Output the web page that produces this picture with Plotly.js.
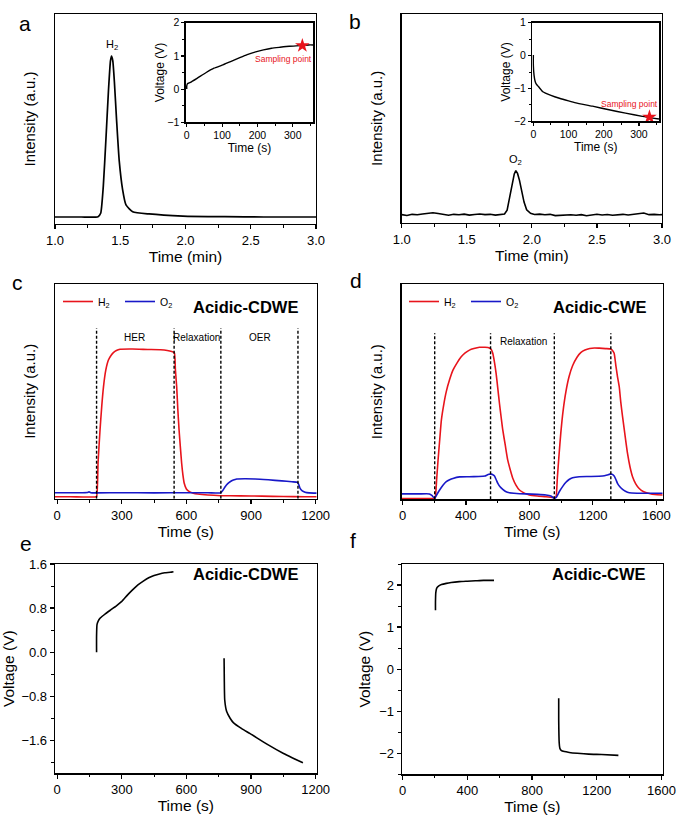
<!DOCTYPE html>
<html>
<head>
<meta charset="utf-8">
<script src="https://cdn.plot.ly/plotly-3.0.1.min.js"></script>
<style>
  html, body { margin: 0; padding: 0; background: #fff; }
  #chart { width: 678px; height: 819px; }
</style>
</head>
<body>
<div id="chart"></div>
<script>
// ---- panel a : H2 chromatogram ----
var aTime   = [1.00, 1.20, 1.33, 1.35, 1.37, 1.39, 1.41, 1.425, 1.433, 1.443, 1.455, 1.472, 1.492, 1.518, 1.544, 1.595, 1.72, 1.98, 2.3, 2.6, 3.0];
var aSignal = [0, 0, 0.002, 0.023, 0.19, 0.48, 0.79, 0.97, 1.0, 0.97, 0.84, 0.6, 0.35, 0.17, 0.075, 0.033, 0.019, 0.006, 0.002, 0, 0];

// ---- panel b : O2 chromatogram ----
var bTime   = [1.00, 1.04, 1.08, 1.12, 1.16, 1.20, 1.24, 1.28, 1.32, 1.36, 1.40, 1.44, 1.48, 1.52, 1.56, 1.60, 1.64, 1.68, 1.72, 1.76,
               1.79, 1.81, 1.83, 1.85, 1.865, 1.877, 1.89, 1.905, 1.92, 1.94, 1.96, 1.99, 2.02, 2.06, 2.10, 2.14, 2.18, 2.22, 2.26, 2.30,
               2.34, 2.38, 2.42, 2.46, 2.50, 2.54, 2.58, 2.62, 2.66, 2.70, 2.74, 2.78, 2.82, 2.86, 2.90, 2.94, 2.98, 3.00];
var bSignal = [0.002, -0.003, 0.004, 0.001, 0.006, 0.008, 0.014, 0.009, 0.003, -0.002, 0.004, 0.001, 0.005, -0.001, 0.003, 0.006, 0.002, 0.004, -0.001, 0.003,
               0.006, 0.03, 0.11, 0.2, 0.255, 0.275, 0.258, 0.215, 0.155, 0.08, 0.032, 0.01, 0.003, 0.005, 0.001, 0.004, -0.004, -0.002, 0.003, 0.001,
               -0.002, 0.002, -0.005, 0.001, 0.004, 0.0, 0.003, -0.002, 0.002, 0.004, 0.0, 0.003, 0.007, 0.012, 0.002, 0.004, 0.001, 0.002];

// ---- insets : voltage during sampling ----
var insetATime = [0, 0, 2, 10, 30, 55, 77, 100, 124, 150, 171, 195, 217, 240, 264, 290, 321, 345, 358];
var insetAVolt = [0.0, 0.1, 0.16, 0.2, 0.33, 0.5, 0.63, 0.72, 0.83, 0.95, 1.04, 1.12, 1.18, 1.23, 1.26, 1.29, 1.31, 1.33, 1.33];
var insetBTime = [0, 0, 2, 5, 8, 15, 27, 50, 74, 100, 121, 168, 215, 262, 310, 357];
var insetBVolt = [0.02, -0.3, -0.6, -0.78, -0.86, -0.95, -1.1, -1.21, -1.3, -1.38, -1.44, -1.54, -1.65, -1.75, -1.85, -1.93];
var sampleTime = [327, 330];
var sampleVolt = [1.31, -1.87];

// ---- panel c : Acidic-CDWE gas signal ----
var cTimeH2 = [-10, 60, 120, 175, 183, 190, 199, 207, 215, 226, 238, 250, 261, 275, 292, 350, 420, 480, 532, 544,
               549, 555, 560, 566, 572, 578, 584, 590, 600, 614, 632, 652, 700, 760, 850, 950, 1050, 1150, 1205];
var cH2     = [0.009, 0.009, 0.008, 0.008, 0.01, 0.17, 0.32, 0.43, 0.52, 0.6, 0.646, 0.667, 0.68, 0.69, 0.696, 0.697, 0.695, 0.694, 0.686, 0.68,
               0.6, 0.52, 0.42, 0.32, 0.24, 0.165, 0.11, 0.072, 0.045, 0.033, 0.026, 0.022, 0.017, 0.014, 0.013, 0.012, 0.01, 0.009, 0.009];
var cTimeO2 = [-10, 100, 140, 148, 156, 183, 300, 450, 600, 700, 758, 770, 780, 792, 803, 818, 834, 870, 919, 980,
               1043, 1090, 1116, 1122, 1128, 1138, 1151, 1170, 1205];
var cO2     = [0.028, 0.028, 0.029, 0.032, 0.028, 0.027, 0.028, 0.027, 0.028, 0.028, 0.027, 0.04, 0.056, 0.07, 0.079, 0.087, 0.092, 0.093, 0.092, 0.088,
               0.083, 0.079, 0.076, 0.065, 0.048, 0.036, 0.03, 0.027, 0.026];
var cMarks  = [183, 543, 760, 1118];
var cPhases = ['HER', 'Relaxation', 'OER'];
var cPhaseAt = [361, 648, 943];

// ---- panel d : Acidic-CWE gas signal ----
var dTimeH2 = [-5, 100, 200, 206, 215, 224, 235, 245, 260, 276, 297, 318, 345, 370, 395, 422, 450, 485, 520, 548,
               560, 569, 580, 590, 600, 611, 622, 632, 648, 663, 680, 695, 715, 737, 765, 799, 850, 904, 957,
               967, 976, 986, 998, 1012, 1030, 1050, 1072, 1100, 1125, 1150, 1180, 1210, 1240, 1280, 1313,
               1325, 1334, 1345, 1355, 1366, 1376, 1387, 1402, 1418, 1434, 1450, 1470, 1492, 1520, 1555, 1590, 1640];
var dH2     = [0.004, 0.004, 0.004, 0.006, 0.09, 0.18, 0.28, 0.368, 0.44, 0.5, 0.556, 0.6, 0.635, 0.662, 0.68, 0.693, 0.7, 0.706, 0.706, 0.703,
               0.695, 0.678, 0.635, 0.585, 0.52, 0.446, 0.38, 0.322, 0.25, 0.183, 0.135, 0.098, 0.066, 0.043, 0.03, 0.02, 0.015, 0.012, 0.008,
               0.01, 0.1, 0.2, 0.31, 0.41, 0.5, 0.57, 0.62, 0.66, 0.682, 0.693, 0.7, 0.703, 0.702, 0.7, 0.698,
               0.69, 0.678, 0.62, 0.57, 0.523, 0.45, 0.384, 0.3, 0.214, 0.15, 0.105, 0.072, 0.05, 0.035, 0.027, 0.022, 0.02];
var dTimeO2 = [-5, 100, 170, 185, 203, 215, 234, 255, 276, 297, 318, 360, 420, 480, 520, 531, 545, 559, 570, 580,
               590, 601, 615, 632, 650, 674, 720, 778, 850, 904, 935, 957, 970, 988, 1010, 1030, 1050, 1072, 1114, 1180,
               1261, 1290, 1307, 1320, 1334, 1345, 1355, 1370, 1387, 1405, 1429, 1480, 1534, 1640];
var dO2     = [0.025, 0.025, 0.025, 0.018, 0.005, 0.02, 0.043, 0.065, 0.082, 0.091, 0.097, 0.104, 0.105, 0.106, 0.108, 0.112, 0.116, 0.117, 0.114, 0.108,
               0.092, 0.074, 0.058, 0.046, 0.036, 0.03, 0.027, 0.025, 0.023, 0.02, 0.015, 0.005, 0.01, 0.035, 0.06, 0.079, 0.092, 0.1, 0.105, 0.106,
               0.108, 0.113, 0.117, 0.116, 0.108, 0.092, 0.074, 0.058, 0.046, 0.037, 0.03, 0.028, 0.028, 0.028];
var dMarks  = [203, 555, 957, 1313];

// ---- panel e : Acidic-CDWE voltage ----
var eTime1 = [183, 183, 185, 190, 200, 225, 250, 275, 300, 325, 350, 375, 400, 425, 450, 475, 500, 525, 540];
var eVolt1 = [0.0, 0.3, 0.5, 0.56, 0.62, 0.70, 0.77, 0.84, 0.92, 1.03, 1.13, 1.22, 1.29, 1.35, 1.39, 1.42, 1.44, 1.45, 1.46];
var eTime2 = [775, 776, 778, 787, 803, 818, 857, 896, 974, 1051, 1098, 1141];
var eVolt2 = [-0.11, -0.5, -0.87, -1.08, -1.2, -1.28, -1.39, -1.48, -1.67, -1.84, -1.93, -2.01];

// ---- panel f : Acidic-CWE voltage ----
var fTime1 = [203, 203, 205, 210, 220, 240, 270, 300, 350, 400, 450, 500, 565];
var fVolt1 = [1.40, 1.6, 1.82, 1.92, 1.97, 2.01, 2.04, 2.06, 2.08, 2.09, 2.10, 2.11, 2.11];
var fTime2 = [965, 965, 968, 972, 980, 1000, 1030, 1080, 1150, 1230, 1334];
var fVolt2 = [-0.69, -1.2, -1.75, -1.88, -1.93, -1.96, -1.98, -2.00, -2.02, -2.03, -2.05];

var RED = '#e8141c', BLUE = '#1818c8';
var FONT = '"Liberation Sans", Arial, sans-serif';

function line(x, y, xa, ya, color, width, extra) {
  return Object.assign({
    type: 'scatter', mode: 'lines', x: x, y: y, xaxis: xa, yaxis: ya,
    line: { color: color, width: width, shape: 'spline', smoothing: 0.5 },
    showlegend: false, hoverinfo: 'skip'
  }, extra || {});
}

function dashes(marks, top, xa, ya) {
  var xs = [], ys = [];
  marks.forEach(function (m) { xs.push(m, m, null); ys.push(0, top, null); });
  return {
    type: 'scatter', mode: 'lines', x: xs, y: ys, xaxis: xa, yaxis: ya,
    line: { color: 'black', width: 1.4, dash: '3px,2px' }, showlegend: false, hoverinfo: 'skip'
  };
}

var data = [
  line(aTime, aSignal, 'x', 'y', 'black', 1.7),
  line(bTime, bSignal, 'x2', 'y2', 'black', 1.7, { line: { color: 'black', width: 1.6 } }),
  line(insetATime, insetAVolt, 'x3', 'y3', 'black', 1.4),
  line(insetBTime, insetBVolt, 'x4', 'y4', 'black', 1.4),
  { type: 'scatter', mode: 'markers', x: [sampleTime[0]], y: [sampleVolt[0]], xaxis: 'x3', yaxis: 'y3',
    marker: { symbol: 'star', size: 11, color: RED }, showlegend: false, hoverinfo: 'skip' },
  { type: 'scatter', mode: 'markers', x: [sampleTime[1]], y: [sampleVolt[1]], xaxis: 'x4', yaxis: 'y4',
    marker: { symbol: 'star', size: 11, color: RED }, showlegend: false, hoverinfo: 'skip' },
  line(cTimeH2, cH2, 'x5', 'y5', RED, 1.6, { name: 'H<sub>2</sub>', showlegend: true, legend: 'legend' }),
  line(cTimeO2, cO2, 'x5', 'y5', BLUE, 1.6, { name: 'O<sub>2</sub>', showlegend: true, legend: 'legend' }),
  dashes(cMarks, 0.794, 'x5', 'y5'),
  line(dTimeH2, dH2, 'x6', 'y6', RED, 1.6, { name: 'H<sub>2</sub>', showlegend: true, legend: 'legend2' }),
  line(dTimeO2, dO2, 'x6', 'y6', BLUE, 1.6, { name: 'O<sub>2</sub>', showlegend: true, legend: 'legend2' }),
  dashes(dMarks, 0.771, 'x6', 'y6'),
  line(eTime1, eVolt1, 'x7', 'y7', 'black', 1.6),
  line(eTime2, eVolt2, 'x7', 'y7', 'black', 1.6),
  line(fTime1, fVolt1, 'x8', 'y8', 'black', 1.6),
  line(fTime2, fVolt2, 'x8', 'y8', 'black', 1.6)
];

function ax(extra) {
  return Object.assign({
    showline: true, mirror: true, linecolor: 'black', linewidth: 1.3,
    showgrid: false, zeroline: false, fixedrange: true,
    ticks: 'outside', ticklen: 4, tickwidth: 1.2, tickcolor: 'black',
    tickfont: { size: 13, color: 'black' }
  }, extra);
}
function minor(d, len) { return { ticks: 'outside', ticklen: len || 2.5, tickwidth: 1, tickcolor: 'black', dtick: d }; }
function ttl(t, size, standoff) { return { text: t, font: { size: size, color: 'black' }, standoff: standoff }; }

var W = 678, H = 819;
function dx(a, b) { return [a / W, b / W]; }
function dy(top, bottom) { return [1 - bottom / H, 1 - top / H]; }

var noTicks = { ticks: '', showticklabels: false };

function legendAt(px, py) {
  return { x: px / W, y: 1 - py / H, xanchor: 'left', yanchor: 'top', orientation: 'h', bgcolor: 'rgba(0,0,0,0)',
           font: { size: 10.5, color: 'black' }, itemwidth: 30, entrywidth: 17, tracegroupgap: 0 };
}

var layout = {
  width: W, height: H,
  margin: { l: 0, r: 0, t: 0, b: 0 },
  paper_bgcolor: 'white', plot_bgcolor: 'white',
  font: { family: FONT, color: 'black' },
  // a
  xaxis:  ax({ domain: dx(55, 316), anchor: 'y', range: [1, 3], dtick: 0.5, tickformat: '.1f', minor: minor(0.25), title: ttl('Time (min)', 15.5, 3) }),
  yaxis:  ax(Object.assign({ domain: dy(14, 224), anchor: 'x', range: [-0.0435, 1.261], title: ttl('Intensity (a.u.)', 15, 14) }, noTicks)),
  // b
  xaxis2: ax({ domain: dx(401.7, 662), anchor: 'y2', range: [1, 3], dtick: 0.5, tickformat: '.1f', minor: minor(0.25), title: ttl('Time (min)', 15.5, 3) }),
  yaxis2: ax(Object.assign({ domain: dy(14, 222.7), anchor: 'x2', range: [-0.048, 1.248], title: ttl('Intensity (a.u.)', 15, 14) }, noTicks)),
  // inset a
  xaxis3: ax({ domain: dx(185.7, 313.3), anchor: 'y3', range: [-3, 358], dtick: 100, ticklen: 3, tickfont: { size: 10.5 }, minor: minor(50, 2), title: ttl('Time (s)', 12, 1) }),
  yaxis3: ax({ domain: dy(22.7, 122.3), anchor: 'x3', range: [-1, 2], dtick: 1, ticklen: 3, tickfont: { size: 10.5 }, minor: minor(0.5, 2), title: ttl('Voltage (V)', 12, 0) }),
  // inset b
  xaxis4: ax({ domain: dx(532.3, 659.3), anchor: 'y4', range: [-3, 358], dtick: 100, ticklen: 3, tickfont: { size: 10.5 }, minor: minor(50, 2), title: ttl('Time (s)', 12, 1) }),
  yaxis4: ax({ domain: dy(22.7, 121.3), anchor: 'x4', range: [-2, 1], dtick: 1, ticklen: 3, tickfont: { size: 10.5 }, minor: minor(0.5, 2), title: ttl('Voltage (V)', 12, 0) }),
  // c
  xaxis5: ax({ domain: dx(55, 316.7), anchor: 'y5', range: [-10, 1205], dtick: 300, minor: minor(150), title: ttl('Time (s)', 15.5, 3) }),
  yaxis5: ax(Object.assign({ domain: dy(284, 498.7), anchor: 'x5', range: [0, 1], title: ttl('Intensity (a.u.)', 15, 14) }, noTicks)),
  // d
  xaxis6: ax({ domain: dx(401.7, 662.7), anchor: 'y6', range: [-5, 1640], dtick: 400, minor: minor(200), title: ttl('Time (s)', 15.5, 3) }),
  yaxis6: ax(Object.assign({ domain: dy(284, 499.3), anchor: 'x6', range: [0, 1], title: ttl('Intensity (a.u.)', 15, 14) }, noTicks)),
  // e
  xaxis7: ax({ domain: dx(55, 316.7), anchor: 'y7', range: [-10, 1205], dtick: 300, minor: minor(150), title: ttl('Time (s)', 15.5, 3) }),
  yaxis7: ax({ domain: dy(564, 773.3), anchor: 'x7', range: [-2.2, 1.6], tick0: 0, dtick: 0.8, tickformat: '.1f', minor: minor(0.4), title: ttl('Voltage (V)', 15.5, 20) }),
  // f
  xaxis8: ax({ domain: dx(402, 662.7), anchor: 'y8', range: [-4, 1608], dtick: 400, minor: minor(200), title: ttl('Time (s)', 15.5, 3) }),
  yaxis8: ax({ domain: dy(564, 774.3), anchor: 'x8', range: [-2.5, 2.5], dtick: 1, minor: minor(0.5), title: ttl('Voltage (V)', 15.5, 4) }),
  legend:  legendAt(58, 287),
  legend2: legendAt(404, 287),
  annotations: []
};

var ann = layout.annotations;
function note(text, x, y, opts) {
  ann.push(Object.assign({ text: text, x: x, y: y, showarrow: false, font: { family: FONT, color: 'black' } }, opts));
}
// panel letters
[['a', 17, 10], ['b', 355, 8], ['c', 10, 282], ['d', 356, 280], ['e', 18, 557], ['f', 353, 554]].forEach(function (p) {
  note(p[0], p[1] / W, 1 - p[2] / H, { xref: 'paper', yref: 'paper', font: { family: FONT, size: 21, color: 'black' } });
});
note('H<sub>2</sub>', aTime[8], aSignal[8], { xref: 'x', yref: 'y', yanchor: 'bottom', yshift: 2, font: { family: FONT, size: 11, color: 'black' } });
note('O<sub>2</sub>', bTime[25], bSignal[25], { xref: 'x2', yref: 'y2', yanchor: 'bottom', yshift: 2, font: { family: FONT, size: 11, color: 'black' } });
note('Sampling point', 274, 0.92, { xref: 'x3', yref: 'y3', font: { family: FONT, size: 8.5, color: RED } });
note('Sampling point', 274, -1.48, { xref: 'x4', yref: 'y4', font: { family: FONT, size: 8.5, color: RED } });
cPhases.forEach(function (t, i) {
  note(t, cPhaseAt[i], 0.752, { xref: 'x5', yref: 'y5', font: { family: FONT, size: 10, color: 'black' } });
});
note('Relaxation', 762, 0.732, { xref: 'x6', yref: 'y6', font: { family: FONT, size: 10, color: 'black' } });
var bold = { family: FONT, size: 16.5, color: 'black', weight: 'bold' };
note('<b>Acidic-CDWE</b>', 300 / W, 1 - 307 / H, { xref: 'paper', yref: 'paper', xanchor: 'right', font: bold });
note('<b>Acidic-CWE</b>', 649 / W, 1 - 307 / H, { xref: 'paper', yref: 'paper', xanchor: 'right', font: bold });
note('<b>Acidic-CDWE</b>', 300 / W, 1 - 585 / H, { xref: 'paper', yref: 'paper', xanchor: 'right', font: bold });
note('<b>Acidic-CWE</b>', 648 / W, 1 - 585 / H, { xref: 'paper', yref: 'paper', xanchor: 'right', font: bold });

Plotly.newPlot('chart', data, layout, { staticPlot: true, displayModeBar: false });
</script>
</body>
</html>
